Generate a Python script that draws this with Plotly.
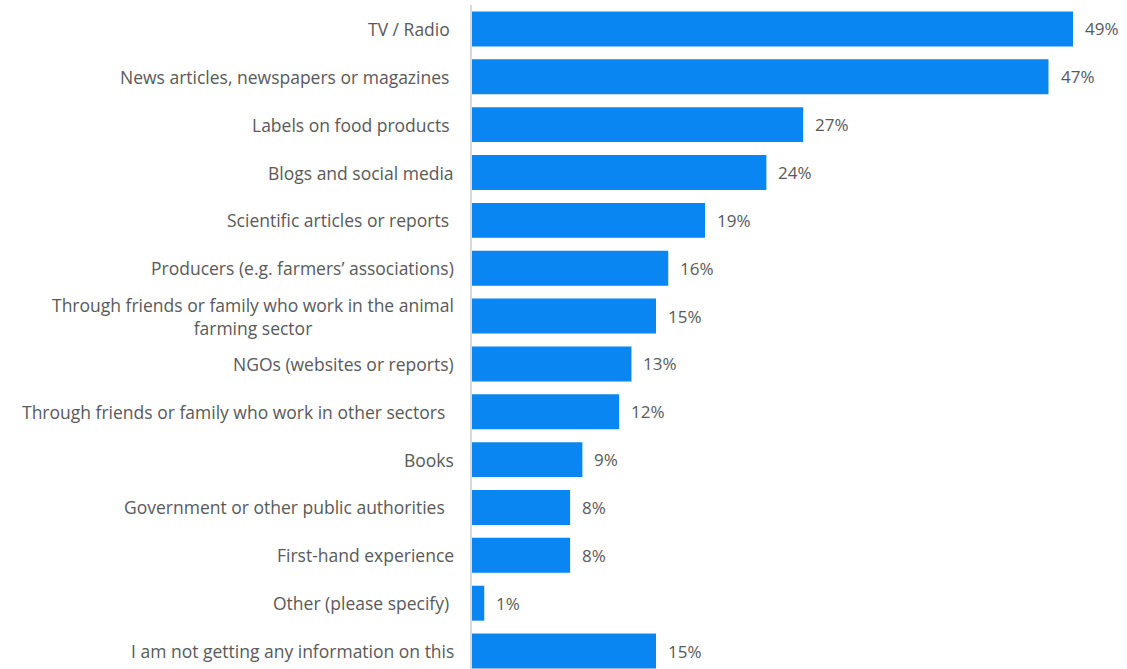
import plotly.graph_objects as go

# Information sources, top to bottom
categories = [
    "TV / Radio\u00a0",
    "News articles, newspapers or magazines\u00a0",
    "Labels on food products\u00a0",
    "Blogs and social media",
    "Scientific articles or reports\u00a0",
    "Producers (e.g. farmers\u2019 associations)",
    "Through friends or family who work in the animal<br>farming sector",
    "NGOs (websites or reports)",
    "Through friends or family who work in other sectors\u00a0\u00a0",
    "Books",
    "Government or other public authorities\u00a0\u00a0",
    "First-hand experience",
    "Other (please specify)\u00a0",
    "I am not getting any information on this",
]
values = [49, 47, 27, 24, 19, 16, 15, 13, 12, 9, 8, 8, 1, 15]
value_labels = [f"{v}%" for v in values]

BAR = "#0A86F2"
TEXT = "#595959"
FONT = "Open Sans"

fig = go.Figure(
    go.Bar(
        x=values,
        y=list(range(len(categories))),
        orientation="h",
        marker=dict(color=BAR, line=dict(width=0)),
        width=0.73,
        hoverinfo="skip",
    )
)

annotations = []
for i, (cat, v, lab) in enumerate(zip(categories, values, value_labels)):
    # category label, right-aligned against the axis
    annotations.append(dict(
        x=0, y=i, xref="paper", yref="y", text=cat, showarrow=False,
        xanchor="right", yanchor="middle", align="center", xshift=-16,
        font=dict(family=FONT, size=17.5, color=TEXT),
    ))
    # value label just past the bar end
    annotations.append(dict(
        x=v, y=i, xref="x", yref="y", text=lab, showarrow=False,
        xanchor="left", yanchor="middle", xshift=10,
        font=dict(family=FONT, size=17, color=TEXT),
    ))

fig.update_layout(
    width=1127,
    height=669,
    margin=dict(l=472, r=0, t=5, b=0),
    paper_bgcolor="white",
    plot_bgcolor="white",
    showlegend=False,
    annotations=annotations,
    xaxis=dict(range=[0, 53.4], visible=False, fixedrange=True),
    yaxis=dict(
        range=[13.375, -0.5],
        showticklabels=False,
        showgrid=False,
        zeroline=False,
        showline=True,
        linecolor="#D9D9D9",
        linewidth=2,
        ticks="",
    ),
)

fig.write_html("out.html")
